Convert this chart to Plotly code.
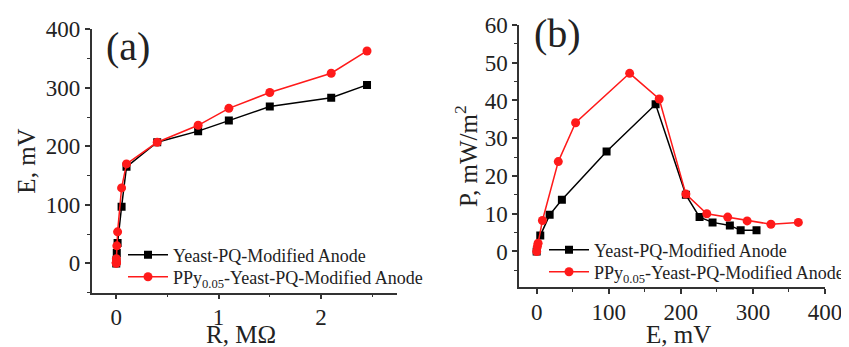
import plotly.graph_objects as go

# Panel (a): E vs R
R_black = [0, 0.001, 0.005, 0.013, 0.052, 0.1, 0.4, 0.8, 1.1, 1.5, 2.1, 2.45]
E_black = [0, 5, 18, 35, 97, 165, 207, 226, 244, 268, 283, 305]
R_red = [0, 0.0002, 0.0005, 0.001, 0.0056, 0.013, 0.052, 0.1, 0.4, 0.8, 1.1, 1.5, 2.1, 2.45]
E_red = [0, 1, 2, 8, 30, 54, 129, 170, 207, 236, 265, 292, 325, 363]

# Panel (b): P vs E
P_black = [0, 4.2, 9.7, 13.7, 26.5, 39, 15, 9.1, 7.7, 6.9, 5.6, 5.6]
P_red = [0, 1.3, 2.2, 8.2, 23.8, 34.1, 47.2, 40.4, 15.2, 10, 9.1, 8.1, 7.2, 7.7]

name_black = "Yeast-PQ-Modified Anode"
name_red = "PPy<sub>0.05</sub>-Yeast-PQ-Modified Anode"
xtitle_a = "R, MΩ"
xtitle_b = "E, mV"

FONT = "Liberation Serif"
BLACK = "#000000"
RED = "#ff1a1a"
TXT = "#222222"

# page body has an 8px margin; figure sized to fit the window
OFF = 8
W, H = 849 - OFF, 347 - OFF
def px(sx):
    return (sx - OFF) / W
def py(sy):
    return 1 - (sy - OFF) / H

fig = go.Figure()

fig.add_trace(go.Scatter(x=R_black, y=E_black, mode="lines+markers", name=name_black,
                         line=dict(color=BLACK, width=1.5),
                         marker=dict(symbol="square", size=8, color=BLACK),
                         xaxis="x", yaxis="y", legend="legend"))
fig.add_trace(go.Scatter(x=R_red, y=E_red, mode="lines+markers", name=name_red,
                         line=dict(color=RED, width=1.5),
                         marker=dict(symbol="circle", size=9, color=RED),
                         xaxis="x", yaxis="y", legend="legend2"))
fig.add_trace(go.Scatter(x=E_black, y=P_black, mode="lines+markers", name=name_black,
                         line=dict(color=BLACK, width=1.5),
                         marker=dict(symbol="square", size=8, color=BLACK),
                         xaxis="x2", yaxis="y2", legend="legend3"))
fig.add_trace(go.Scatter(x=E_red, y=P_red, mode="lines+markers", name=name_red,
                         line=dict(color=RED, width=1.5),
                         marker=dict(symbol="circle", size=9, color=RED),
                         xaxis="x2", yaxis="y2", legend="legend4"))

axis_common = dict(showline=True, linecolor="#333333", linewidth=1.5, ticks="outside",
                   ticklen=5, tickwidth=1.5, tickcolor="#333333", showgrid=False,
                   zeroline=False, automargin=False,
                   tickfont=dict(family=FONT, size=23, color=TXT),
                   title_font=dict(family=FONT, size=25, color=TXT))
minor_common = dict(ticks="outside", ticklen=3, tickwidth=1.2, tickcolor="#333333", tick0=0)

def leg(sx, sy):
    return dict(x=px(sx), y=py(sy), xanchor="left", yanchor="middle",
                bgcolor="rgba(0,0,0,0)", font=dict(family=FONT, size=18, color=TXT),
                tracegroupgap=0, itemwidth=40)

fig.update_layout(
    width=W, height=H,
    margin=dict(l=0, r=0, t=0, b=0),
    paper_bgcolor="white", plot_bgcolor="white",
    font=dict(family=FONT, color=TXT),
    showlegend=True,
    xaxis=dict(domain=[px(91.7), px(396.7)], range=[-0.24, 2.74], anchor="y",
               dtick=1, tick0=0, ticklabelstandoff=-2,
               minor=dict(dtick=0.5, **minor_common), **axis_common),
    yaxis=dict(domain=[py(292.7), py(29.3)], range=[-50, 400], anchor="x",
               dtick=100, tick0=0, title=dict(text="E, mV", standoff=3),
               minor=dict(dtick=50, **minor_common), **axis_common),
    xaxis2=dict(domain=[px(519), px(825)], range=[-24.5, 400], anchor="y2",
                dtick=100, tick0=0, ticklabelstandoff=-2,
                minor=dict(dtick=50, **minor_common), **axis_common),
    yaxis2=dict(domain=[py(287.3), py(25)], range=[-9.5, 60], anchor="x2",
                dtick=10, tick0=0, title=dict(text="P, mW/m<sup>2</sup>", standoff=0),
                minor=dict(dtick=5, **minor_common), **axis_common),
    legend=leg(123, 255),
    legend2=leg(123, 277),
    legend3=leg(544, 250),
    legend4=leg(544, 272),
    annotations=[
        dict(text="(a)", x=px(128), y=py(47), xref="paper", yref="paper", showarrow=False,
             xanchor="center", yanchor="middle",
             font=dict(family=FONT, size=40, color=TXT)),
        dict(text="(b)", x=px(557), y=py(33), xref="paper", yref="paper", showarrow=False,
             xanchor="center", yanchor="middle",
             font=dict(family=FONT, size=40, color=TXT)),
        dict(text=xtitle_a, x=px(241), y=0, xref="paper", yref="paper", showarrow=False,
             xanchor="center", yanchor="bottom", yshift=-3,
             font=dict(family=FONT, size=25, color=TXT)),
        dict(text=xtitle_b, x=px(678), y=0, xref="paper", yref="paper", showarrow=False,
             xanchor="center", yanchor="bottom", yshift=-3,
             font=dict(family=FONT, size=25, color=TXT)),
    ],
)

fig.write_html("out.html")
